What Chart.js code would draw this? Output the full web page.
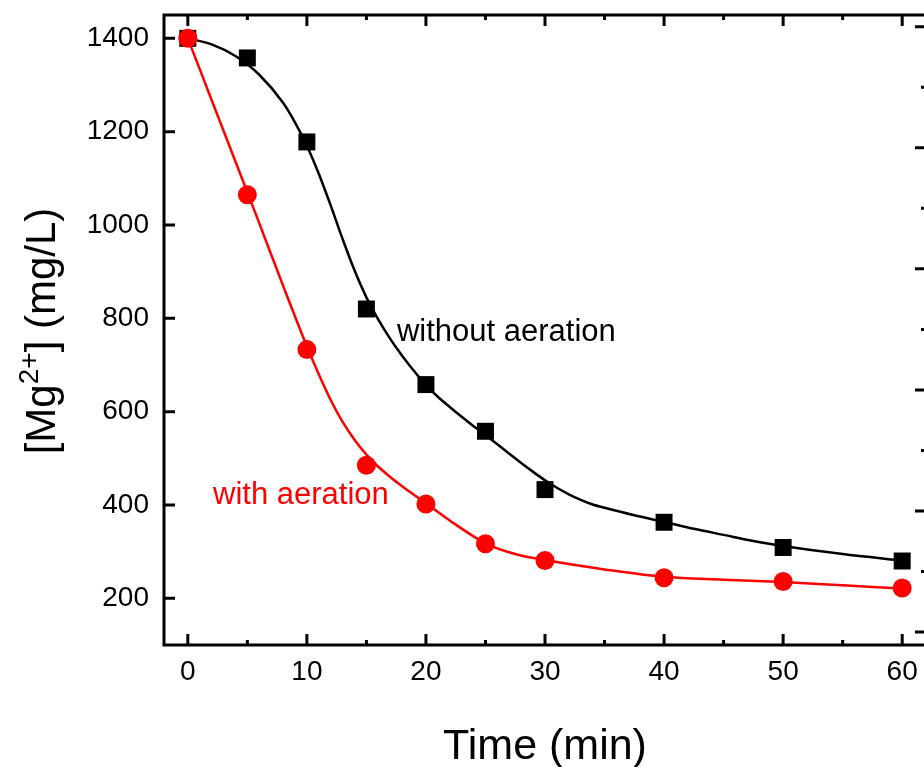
<!DOCTYPE html>
<html>
<head>
<meta charset="utf-8">
<script src="https://cdn.jsdelivr.net/npm/chart.js@4.4.1/dist/chart.umd.min.js"></script>
<style>
  html, body { margin: 0; padding: 0; background: #fff; overflow: hidden; }
  canvas { display: block; }
</style>
</head>
<body>
<canvas id="mgChart" width="944" height="767"></canvas>
<script>
// measured points
const timeMin = [0, 5, 10, 15, 20, 25, 30, 40, 50, 60];
const mgWithout = [1400, 1358, 1178, 820, 658, 558, 433, 363, 309, 280];
const mgWith = [1400, 1065, 733, 485, 402, 317, 281, 244, 236, 222];

// fitted curves
const fitTimeWithout = [0, 2, 4, 6, 8, 9, 10, 11, 12, 13, 14, 15, 16, 17, 18, 19, 20, 21, 22, 23, 24, 25, 26, 27, 28, 29, 30, 31, 32, 33, 34, 35, 37.5, 40, 42.5, 45, 47.5, 50, 55, 60];
const fitWithout = [1400, 1387, 1362, 1322, 1262, 1220, 1170, 1110, 1042, 970, 903, 845, 797, 756, 720, 687, 657, 632, 610, 589, 569, 550, 530, 510, 490, 471, 453, 437, 423, 411, 401, 394, 378, 364, 349, 336, 323, 312, 295, 281];
const fitTimeWith = [0, 2, 4, 6, 8, 10, 11, 12, 13, 14, 15, 16, 18, 20, 22.5, 25, 27.5, 30, 35, 40, 45, 50, 55, 60];
const fitWith = [1400, 1268, 1136, 1004, 870, 740, 680, 625, 578, 540, 508, 482, 440, 404, 358, 318, 295, 282, 262, 246, 240, 235, 228, 221];

const xTickValues = [0, 10, 20, 30, 40, 50, 60];
const yTickValues = [200, 400, 600, 800, 1000, 1200, 1400];
const rightTickValues = [0, 1, 2, 3, 4, 5];   // ticks of the neighbouring panel at the right edge

const FONT = "'Liberation Sans', Arial, Helvetica, sans-serif";

function pts(xs, ys) {
  return xs.map((x, i) => ({ x: x, y: ys[i] }));
}

// frame with inward ticks on all four sides
const frame = {
  id: 'frame',
  afterDraw(chart) {
    const { ctx, chartArea: a, scales } = chart;
    ctx.save();
    ctx.strokeStyle = '#000';
    ctx.lineWidth = 3;
    ctx.beginPath();
    ctx.rect(a.left, a.top, a.right - a.left, a.bottom - a.top);
    ctx.stroke();

    const major = 11, minor = 5;
    ctx.beginPath();
    const xv = scales.x.ticks.map(t => t.value);
    xv.forEach((v, i) => {
      let px = scales.x.getPixelForValue(v);
      ctx.moveTo(px, a.bottom); ctx.lineTo(px, a.bottom - major);
      ctx.moveTo(px, a.top); ctx.lineTo(px, a.top + major);
      if (i < xv.length - 1) {
        px = scales.x.getPixelForValue((v + xv[i + 1]) / 2);
        ctx.moveTo(px, a.bottom); ctx.lineTo(px, a.bottom - minor);
        ctx.moveTo(px, a.top); ctx.lineTo(px, a.top + minor);
      }
    });
    scales.y.ticks.forEach(t => {
      const py = scales.y.getPixelForValue(t.value);
      ctx.moveTo(a.left, py); ctx.lineTo(a.left + major, py);
    });
    rightTickValues.forEach((v, i) => {
      let py = scales.y2.getPixelForValue(v);
      ctx.moveTo(a.right, py); ctx.lineTo(a.right - major, py);
      if (i < rightTickValues.length - 1) {
        py = scales.y2.getPixelForValue(v + 0.5);
        ctx.moveTo(a.right, py); ctx.lineTo(a.right - minor, py);
      }
    });
    ctx.stroke();

    // y axis title with superscript
    ctx.fillStyle = '#000';
    ctx.textBaseline = 'alphabetic';
    ctx.translate(55, (a.top + a.bottom) / 2 + 1);
    ctx.rotate(-Math.PI / 2);
    const big = '42px ' + FONT, small = '28px ' + FONT;
    const parts = [['[Mg', big, 0], ['2+', small, -17], ['] (mg/L)', big, 0]];
    let total = 0;
    parts.forEach(p => { ctx.font = p[1]; total += ctx.measureText(p[0]).width; });
    let x = -total / 2;
    parts.forEach(p => {
      ctx.font = p[1];
      ctx.fillText(p[0], x, p[2]);
      x += ctx.measureText(p[0]).width;
    });
    ctx.restore();
  }
};

// curve labels, placed in data coordinates
const notes = [
  { text: 'without aeration', t: 17.56, v: 751, color: '#000' },
  { text: 'with aeration', t: 2.12, v: 402, color: '#ff0000' }
];
const curveLabels = {
  id: 'curveLabels',
  afterDatasetsDraw(chart) {
    const { ctx, scales } = chart;
    ctx.save();
    ctx.font = '31px ' + FONT;
    ctx.textBaseline = 'alphabetic';
    notes.forEach(n => {
      ctx.fillStyle = n.color;
      ctx.fillText(n.text, scales.x.getPixelForValue(n.t), scales.y.getPixelForValue(n.v));
    });
    ctx.restore();
  }
};

const ctx = document.getElementById('mgChart');
const mgChart = new Chart(ctx, {
  type: 'line',
  data: {
    datasets: [
      {
        label: 'with aeration',
        data: pts(timeMin, mgWith),
        showLine: false,
        pointStyle: 'circle',
        pointRadius: 9.5,
        pointBorderWidth: 0,
        backgroundColor: '#ff0000',
        borderColor: '#ff0000',
        order: 0
      },
      {
        label: 'without aeration',
        data: pts(timeMin, mgWithout),
        showLine: false,
        pointStyle: 'rect',
        pointRadius: 12,
        pointBorderWidth: 0,
        backgroundColor: '#000',
        borderColor: '#000',
        order: 1
      },
      {
        label: 'with aeration fit',
        data: pts(fitTimeWith, fitWith),
        borderColor: '#ff0000',
        borderWidth: 2.5,
        pointRadius: 0,
        cubicInterpolationMode: 'monotone',
        order: 2
      },
      {
        label: 'without aeration fit',
        data: pts(fitTimeWithout, fitWithout),
        borderColor: '#000',
        borderWidth: 2.5,
        pointRadius: 0,
        cubicInterpolationMode: 'monotone',
        order: 3
      }
    ]
  },
  options: {
    responsive: false,
    animation: false,
    layout: { padding: { left: 0, top: 15, right: 18, bottom: 0 } },
    plugins: { legend: { display: false }, tooltip: { enabled: false } },
    scales: {
      x: {
        type: 'linear',
        min: -2,
        max: 62,
        afterBuildTicks: s => { s.ticks = xTickValues.map(v => ({ value: v })); },
        afterFit: s => { s.height = 122; s.paddingLeft = 0; s.paddingRight = 0; },
        grid: { display: false, drawTicks: false },
        border: { display: false },
        ticks: { color: '#000', font: { size: 28, family: FONT }, padding: 10, maxRotation: 0, callback: v => String(v) },
        title: { display: true, text: 'Time (min)', color: '#000', font: { size: 43, family: FONT }, padding: { top: 0, bottom: -6 } }
      },
      y: {
        type: 'linear',
        min: 100,
        max: 1450,
        afterBuildTicks: s => { s.ticks = yTickValues.map(v => ({ value: v })); },
        afterFit: s => { s.width = 164; s.paddingTop = 0; s.paddingBottom = 0; },
        grid: { display: false, drawTicks: false },
        border: { display: false },
        ticks: { color: '#000', font: { size: 28, family: FONT }, padding: 15, callback: v => String(v) }
      },
      y2: {
        type: 'linear',
        display: false,
        position: 'right',
        min: -0.107,
        max: 5.097
      }
    }
  },
  plugins: [frame, curveLabels]
});
</script>
</body>
</html>
